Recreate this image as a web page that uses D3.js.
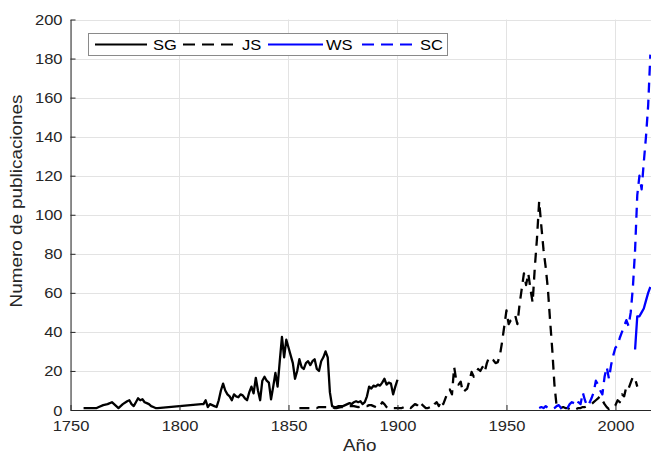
<!DOCTYPE html>
<html><head><meta charset="utf-8">
<script src="https://cdn.jsdelivr.net/npm/d3@7"></script>
<style>html,body{margin:0;padding:0;background:#fff;} svg{display:block;}</style>
</head><body>
<svg id="chart" width="651" height="454"></svg>
<script>
const seriesNames = ["SG", "JS", "WS", "SC"];
const xTicks = [1750, 1800, 1850, 1900, 1950, 2000];
const yTicks = [0, 20, 40, 60, 80, 100, 120, 140, 160, 180, 200];

const SG = [[1756,1],[1757,1],[1758,1],[1759,1],[1760,1],[1761,1],[1762,1],[1763,1.5],[1765,2.5],[1767,3],[1769,4],[1770,3],[1771,2],[1772,1],[1774,3],[1776,4.5],[1777,5],[1778,3],[1779,2],[1780,4],[1781,6],[1782,5],[1783,5.5],[1784,4],[1785,3.5],[1786,3],[1787,2],[1788,1.5],[1789,1],[1790,1],[1795,1.5],[1800,2],[1805,2.5],[1810,3],[1811,3],[1812,5],[1813,1.5],[1814,3],[1815,2.5],[1816,2],[1817,1.5],[1818,5],[1819,10],[1820,13.5],[1821,10],[1822,8],[1823,7],[1824,5],[1825,8],[1826,7],[1827,6.5],[1828,8],[1829,7.5],[1830,6],[1831,5],[1832,9],[1833,12],[1834,8.5],[1835,16.5],[1836,10],[1837,5],[1838,15],[1839,17],[1840,15],[1841,14],[1842,5.5],[1843,12],[1844,19],[1845,12],[1846,25],[1847,37.5],[1848,27],[1849,36],[1850,32],[1851,28],[1852,24],[1853,16],[1854,20],[1855,26],[1856,22],[1857,21],[1858,24],[1859,25],[1860,23],[1861,25],[1862,26],[1863,21],[1864,20],[1865,25],[1866,27],[1867,30],[1868,27],[1869,9],[1870,2],[1871,1.5],[1872,1.5],[1873,2],[1874,2],[1875,2],[1876,2.5],[1877,3],[1878,3.5],[1879,3],[1880,4],[1881,4.5],[1882,4],[1883,4.5],[1884,3],[1885,4],[1886,7],[1887,12],[1888,11],[1889,12.5],[1890,12],[1891,13],[1892,12.5],[1893,14],[1894,16],[1895,13],[1896,14],[1897,13.5],[1898,8],[1899,12],[1900,15.5]];

const JS = [[1855,1],[1856,1],[1857,1],[1858,1],[1859,1],[1860,1],[1861,1],[1862,1],[1863,1],[1864,1.5],[1865,1.5],[1866,1.5],[1867,1.5],[1868,1.5],[1869,1.5],[1870,1.5],[1871,1],[1872,1],[1874,1.5],[1876,1.5],[1878,2],[1880,2],[1882,1.5],[1884,2],[1886,2],[1887,2.5],[1888,2.5],[1889,2],[1890,1.5],[1891,1],[1892,2],[1893,4],[1894,3],[1895,1.5],[1896,1],[1897,0.5],[1898,1],[1899,1],[1900,1],[1901,1],[1902,1],[1903,1.5],[1904,1],[1905,1.5],[1906,1],[1907,2],[1908,3],[1909,2.5],[1910,4.5],[1911,3],[1912,2],[1913,1],[1914,1],[1915,1.5],[1916,1],[1917,3],[1918,4],[1919,2],[1920,5],[1921,3],[1922,6],[1923,9],[1924,10.5],[1925,8],[1926,22],[1927,15],[1928,13],[1929,14.5],[1930,9],[1931,10],[1932,11],[1933,15],[1934,19.5],[1935,17],[1936,19],[1937,21],[1938,20],[1939,22],[1940,19.5],[1941,24],[1942,27],[1943,26],[1944,25.5],[1945,24],[1946,24.5],[1947,28],[1948,35],[1949,43],[1950,51],[1951,44],[1952,46],[1953,47],[1954,48.5],[1955,44],[1956,54],[1957,62],[1958,70],[1959,64],[1960,70],[1961,62],[1962,55],[1963,73],[1964,88],[1965,107],[1966,94],[1967,82],[1968,73],[1969,62],[1970,46],[1971,31],[1972,13],[1973,2],[1974,1],[1975,1],[1976,1.5],[1977,1],[1978,1],[1979,0.5],[1980,0.5],[1981,1],[1982,0.5],[1983,1],[1984,1],[1985,1.5],[1986,1.5],[1987,2],[1988,2.5],[1989,3],[1990,4],[1991,5],[1992,6],[1993,7],[1994,5],[1995,3],[1996,1.5],[1997,0.5],[1998,1],[1999,1],[2000,2.5],[2001,5],[2002,4],[2003,8],[2004,7],[2005,12],[2006,11],[2007,14],[2008,17],[2009,16],[2010,12]];

const WS = [[2009,31],[2010,48],[2011,48],[2012,50],[2013,52],[2014,56],[2015,60],[2016,63]];

const SC = [[1965,1],[1966,1.5],[1967,1],[1968,2],[1969,1],[1970,0.5],[1971,0.5],[1972,1],[1973,2],[1974,2.5],[1975,1],[1976,2],[1977,1.5],[1978,1],[1979,3],[1980,4],[1981,3.5],[1982,2],[1983,4],[1984,3],[1985,9],[1986,5],[1987,2],[1988,3.5],[1989,6],[1990,9],[1991,15],[1992,13],[1993,10],[1994,8],[1995,17],[1996,22],[1997,16],[1998,23],[1999,28],[2000,32],[2001,33],[2002,37],[2003,40],[2004,43],[2005,46],[2006,43],[2007,50],[2008,63],[2009,82],[2010,110],[2011,120],[2012,113],[2013,127],[2014,140],[2015,156],[2016,182]];

const seriesData = [SG, JS, WS, SC];
const seriesColors = ["#000000", "#000000", "#0000ff", "#0000ff"];
const seriesDash = [null, "10,7", null, "10,7"];

const svg = d3.select("#chart");
const L = 70.5, R = 651, T = 19.5, B = 410;
const SX = 1.18;
const FONT = "'Liberation Sans', Arial, Helvetica, sans-serif";
const axisColor = "#262626";

const x = d3.scaleLinear().domain([1750, 2016.3]).range([L, R]);
const y = d3.scaleLinear().domain([0, 200]).range([B, T]);

// grid
const grid = svg.append("g");
grid.selectAll("line.gx").data(xTicks).join("line")
  .attr("x1", d => Math.round(x(d)) + 0.5).attr("x2", d => Math.round(x(d)) + 0.5)
  .attr("y1", T).attr("y2", B).attr("stroke", "#e3e3e3").attr("stroke-width", 1);
grid.selectAll("line.gy").data(yTicks).join("line")
  .attr("y1", d => Math.round(y(d)) + 0.5).attr("y2", d => Math.round(y(d)) + 0.5)
  .attr("x1", L).attr("x2", R).attr("stroke", "#e3e3e3").attr("stroke-width", 1);

// clip
svg.append("defs").append("clipPath").attr("id", "clip")
  .append("rect").attr("x", L).attr("y", T - 2).attr("width", R - L).attr("height", B - T + 2);

const line = d3.line().x(d => x(d[0])).y(d => y(d[1]));
const lines = svg.append("g").attr("clip-path", "url(#clip)");
seriesData.forEach((s, i) => {
  lines.append("path").datum(s)
    .attr("d", line)
    .attr("fill", "none")
    .attr("stroke", seriesColors[i])
    .attr("stroke-width", 2.3)
    .attr("stroke-linejoin", "round")
    .attr("stroke-dasharray", seriesDash[i]);
});

// axes
const xAxis = svg.append("g").attr("transform", `translate(0,${B})`)
  .call(d3.axisBottom(x).tickValues(xTicks).tickFormat(d3.format("d")).tickSizeInner(-5).tickSizeOuter(0));
const yAxis = svg.append("g").attr("transform", `translate(${L},0)`)
  .call(d3.axisLeft(y).tickValues(yTicks).tickSizeInner(-5).tickSizeOuter(0));

[xAxis, yAxis].forEach(a => {
  a.select(".domain").attr("stroke", axisColor);
  a.selectAll(".tick line").attr("stroke", axisColor);
  a.selectAll(".tick text").attr("fill", axisColor).style("font-family", FONT).style("font-size", "14px");
});
xAxis.selectAll(".tick text").attr("y", 0).attr("dy", null).attr("x", 0)
  .attr("text-anchor", "middle").attr("transform", `translate(0,21) scale(${SX},1)`);
yAxis.selectAll(".tick text").attr("x", 0).attr("dy", null).attr("y", 0)
  .attr("text-anchor", "end").attr("transform", `translate(-8,5) scale(${SX},1)`);

// axis labels
svg.append("text").text("Año")
  .attr("transform", `translate(${(L + 651) / 2 - 1},451) scale(${SX},1)`)
  .attr("text-anchor", "middle").attr("fill", axisColor)
  .style("font-family", FONT).style("font-size", "16px");
svg.append("text").text("Numero de publicaciones")
  .attr("transform", `translate(22,201) rotate(-90) scale(${SX},1)`)
  .attr("text-anchor", "middle").attr("fill", axisColor)
  .style("font-family", FONT).style("font-size", "16px");

// legend
const lg = svg.append("g");
lg.append("rect").attr("x", 88.5).attr("y", 33.5).attr("width", 359).attr("height", 22)
  .attr("fill", "#fff").attr("stroke", "#8a8a8a").attr("stroke-width", 1);
const legX = [95, 183, 268, 362];
const legW = [52, 50, 55, 51];
const textX = [153, 242, 326, 420];
seriesNames.forEach((n, i) => {
  lg.append("line").attr("x1", legX[i]).attr("x2", legX[i] + legW[i]).attr("y1", 44.5).attr("y2", 44.5)
    .attr("stroke", seriesColors[i]).attr("stroke-width", 2).attr("stroke-dasharray", seriesDash[i] ? "12,7" : null);
  lg.append("text").text(n).attr("transform", `translate(${textX[i]},49.5) scale(${SX},1)`)
    .attr("fill", "#000").style("font-family", FONT).style("font-size", "14px");
});
</script>
</body></html>
